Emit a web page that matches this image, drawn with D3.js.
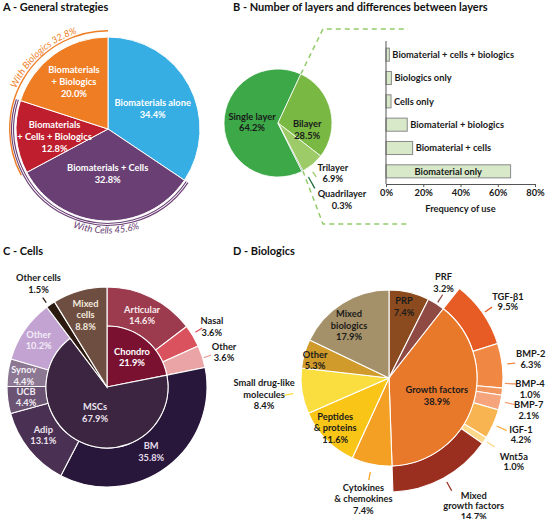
<!DOCTYPE html>
<html><head><meta charset="utf-8">
<script src="https://cdn.jsdelivr.net/npm/d3@7"></script>
<style>
body{margin:0;background:#fff;}
svg{display:block;font-family:Lato,'Open Sans',sans-serif;}
</style></head><body>
<svg id="chart" width="546" height="519"></svg>
<script>
// ================= DATA =================
const strategyLabels = ["Biomaterials alone","Biomaterials + Cells","Biomaterials + Cells + Biologics","Biomaterials + Biologics"];
const strategyValues = [34.4,32.8,12.8,20.0];
const withCellsLabel = "With Cells 45.6%";
const withBiologicsLabel = "With Biologics 32.8%";

const layerLabels = ["Single layer","Bilayer","Trilayer","Quadrilayer"];
const layerValues = [64.2,28.5,6.9,0.3];

const diffLabels = ["Biomaterial + cells + biologics","Biologics only","Cells only","Biomaterial + biologics","Biomaterial + cells","Biomaterial only"];
const diffValues = [1.8,2.9,2.7,11.4,14.3,66.9];
const freqTicks = [0,20,40,60,80];

const cellGroupLabels = ["Chondro","MSCs","Other cells","Mixed cells"];
const cellGroupValues = [21.9,67.9,1.5,8.8];
const cellSubLabels = ["Articular","Nasal","Other","BM","Adip","UCB","Synov","Other"];
const cellSubParents = ["Chondro","Chondro","Chondro","MSCs","MSCs","MSCs","MSCs","MSCs"];
const cellSubValues = [14.6,3.6,3.6,35.8,13.1,4.4,4.4,10.2];

const bioGroupLabels = ["PRP","PRF","Growth factors","Cytokines & chemokines","Peptides & proteins","Small drug-like molecules","Other","Mixed biologics"];
const bioGroupValues = [7.4,3.2,38.9,7.4,11.6,8.4,5.3,17.9];
const gfSubLabels = ["TGF-β1","BMP-2","BMP-4","BMP-7","IGF-1","Wnt5a","Mixed growth factors"];
const gfSubValues = [9.5,6.3,1.0,2.1,4.2,1.0,14.7];

// ================= STYLE =================
const FONT = 9.3, LH = 11.5;
const svg = d3.select("#chart");
svg.append("rect").attr("width",546).attr("height",519).attr("fill","#fff");
const rad = d => d*Math.PI/180;
const polar = (cx,cy,r,aRad) => [cx + r*Math.sin(aRad), cy - r*Math.cos(aRad)];

function block(g, x, y, lines, opt){
  opt = opt||{};
  const lh = opt.lh||LH;
  const t = g.append("text").attr("text-anchor","middle")
    .attr("font-size",opt.size||FONT).attr("font-weight",700)
    .attr("fill",opt.color||"#1a1a1a");
  lines.forEach((s,i)=>{
    t.append("tspan").attr("x",x).attr("y", y - (lines.length-1)*lh/2 + i*lh).attr("dy","0.35em").text(s);
  });
  return t;
}
function lines(name, value){
  const wraps = {
    "Biomaterials + Cells + Biologics":["Biomaterials","+ Cells + Biologics"],
    "Biomaterials + Biologics":["Biomaterials","+ Biologics"],
    "Mixed cells":["Mixed","cells"],
    "Mixed biologics":["Mixed","biologics"],
    "Peptides & proteins":["Peptides","& proteins"],
    "Cytokines & chemokines":["Cytokines","& chemokines"],
    "Small drug-like molecules":["Small drug-like","molecules"],
    "Mixed growth factors":["Mixed","growth factors"]
  };
  return (wraps[name]||[name]).concat([value.toFixed(1)+"%"]);
}
const titleList = [["A - General strategies",3,11],["B - Number of layers and differences between layers",233,11],["C - Cells",3,255],["D - Biologics",233,255]];
titleList.forEach(d=>svg.append("text").attr("x",d[1]).attr("y",d[2]).attr("font-size",11).attr("font-weight",700).attr("fill","#111").text(d[0]));

// ================= PANEL A =================
(function(){
  const cx=108, cy=129, R=92;
  const colors = ["#36ade3","#6a3f74","#be1e2d","#ef7d24"];
  const lab = [{da:4,r:49},{da:-2.5,r:45},{da:-3,r:54},{da:0,r:58}];
  const g = svg.append("g");
  const arcs = d3.pie().sort(null).value(d=>d)(strategyValues);
  const arc = d3.arc().innerRadius(0).outerRadius(R);
  g.append("g").attr("transform",`translate(${cx},${cy})`).selectAll("path").data(arcs).join("path")
    .attr("d",arc).attr("fill",(d,i)=>colors[i]).attr("stroke","#fff").attr("stroke-width",1);
  arcs.forEach((d,i)=>{
    const m = (d.startAngle+d.endAngle)/2 + rad(lab[i].da);
    const [x,y] = polar(cx,cy,lab[i].r,m);
    block(g,x,y,lines(strategyLabels[i],strategyValues[i]),{color:"#fff",lh:12});
  });
  const ring = (a0,a1,r,col,w)=> g.append("path").attr("transform",`translate(${cx},${cy})`)
      .attr("d", d3.arc().innerRadius(r).outerRadius(r).startAngle(a0).endAngle(a1)())
      .attr("fill","none").attr("stroke",col).attr("stroke-width",w);
  ring(arcs[1].startAngle, arcs[2].endAngle, 94.3, "#6a3f74", 1.1);
  ring(arcs[1].startAngle, arcs[2].endAngle, 96.3, "#6a3f74", 1.1);
  ring(arcs[2].startAngle, arcs[3].endAngle, 98.3, "#ef7d24", 1.4);
  function arcText(id, centerDeg, r, span, cw, txt, col){
    const a0 = rad(centerDeg - span), a1 = rad(centerDeg + span);
    const p0 = polar(cx,cy,r,cw?a0:a1), p1 = polar(cx,cy,r,cw?a1:a0);
    svg.append("path").attr("id",id).attr("fill","none")
      .attr("d",`M${p0[0]},${p0[1]} A${r},${r} 0 0 ${cw?1:0} ${p1[0]},${p1[1]}`);
    svg.append("text").attr("font-size",9.5).attr("font-style","italic").attr("fill",col)
      .append("textPath").attr("href","#"+id).attr("startOffset","50%").attr("text-anchor","middle").text(txt);
  }
  arcText("bioArc", 318, 100.5, 60, true, withBiologicsLabel, "#ef7d24");
  arcText("cellArc", 181, 104.5, 60, false, withCellsLabel, "#6a3f74");
})();

// ================= PANEL B =================
(function(){
  const cx=278, cy=123, R=54;
  const colors = ["#3ca848","#78b843","#9dcb68","#1d6f3c"];
  const total = d3.sum(layerValues);
  const rot = rad(25) - layerValues[0]/total*2*Math.PI;
  const g = svg.append("g");
  const arcs = d3.pie().sort(null).value(d=>d).startAngle(rot).endAngle(rot+2*Math.PI)(layerValues);
  const top = polar(cx,cy,R,arcs[1].startAngle), bot = polar(cx,cy,R,arcs[3].startAngle);
  g.append("path").attr("d",`M${top[0]},${top[1]} L323,29 L408,29`).attr("fill","none")
    .attr("stroke","#92cc6a").attr("stroke-width",1.5).attr("stroke-dasharray","5,4");
  g.append("path").attr("d",`M${bot[0]},${bot[1]} L323,224 L408,224`).attr("fill","none")
    .attr("stroke","#92cc6a").attr("stroke-width",1.5).attr("stroke-dasharray","5,4");
  g.append("g").attr("transform",`translate(${cx},${cy})`).selectAll("path").data(arcs).join("path")
    .attr("d",d3.arc().innerRadius(0).outerRadius(R)).attr("fill",(d,i)=>colors[i]).attr("stroke","#fff").attr("stroke-width",0.8);
  const lab = [
    {da:2,r:26},{da:27,r:30},
    {da:-7.7,r:74.3, lead:{da:4.5,r1:60,r2:66,col:"#9dcb68"}},
    {da:-13,r:99.7, lead:{da:-2.5,r1:62,r2:75,col:"#1d6f3c"}}
  ];
  arcs.forEach((d,i)=>{
    const m = (d.startAngle+d.endAngle)/2;
    const L = lab[i];
    if(L.lead){
      const a = polar(cx,cy,L.lead.r1,m+rad(L.lead.da)), b = polar(cx,cy,L.lead.r2,m+rad(L.lead.da));
      g.append("line").attr("x1",a[0]).attr("y1",a[1]).attr("x2",b[0]).attr("y2",b[1]).attr("stroke",L.lead.col).attr("stroke-width",1.3);
    }
    const [x,y] = polar(cx,cy,L.r,m+rad(L.da));
    block(g,x,y,lines(layerLabels[i],layerValues[i]),{color:"#1a1a1a"});
  });

  const x = d3.scaleLinear().domain([0,80]).range([386,535]);
  const y = d3.scaleBand().domain(diffLabels).range([43,183]).paddingInner(0.44).paddingOuter(0.22);
  g.selectAll("rect.bar").data(diffValues).join("rect").attr("class","bar")
    .attr("x",x(0)).attr("y",(d,i)=>y(diffLabels[i])).attr("width",d=>x(d)-x(0)).attr("height",y.bandwidth())
    .attr("fill","#d7e9c9").attr("stroke","#8a8a8a").attr("stroke-width",1);
  diffValues.forEach((v,i)=>{
    const inside = (x(v)-x(0)) > 100;
    g.append("text").attr("font-size",FONT).attr("font-weight",700).attr("fill","#1a1a1a")
      .attr("x", inside ? (x(0)+x(v))/2 : x(v)+3).attr("text-anchor", inside?"middle":"start")
      .attr("y", y(diffLabels[i])+y.bandwidth()/2).attr("dy","0.35em").text(diffLabels[i]);
  });
  const xa = g.append("g").attr("transform","translate(0,184)")
    .call(d3.axisBottom(x).tickValues(freqTicks).tickFormat(d=>d+"%").tickSize(3).tickSizeOuter(0));
  xa.select(".domain").attr("stroke","#555");
  xa.selectAll(".tick line").attr("stroke","#555");
  xa.selectAll("text").attr("font-family","Lato,sans-serif").attr("font-size",FONT).attr("font-weight",700).attr("fill","#1a1a1a").attr("dy","0.6em");
  g.append("line").attr("x1",x(0)).attr("x2",x(0)).attr("y1",41).attr("y2",184).attr("stroke","#555");
  g.append("text").attr("x",(x(0)+x(80))/2).attr("y",212).attr("text-anchor","middle")
    .attr("font-size",FONT).attr("font-weight",700).attr("fill","#1a1a1a").text("Frequency of use");
})();

// ================= PANEL C =================
(function(){
  const cx=107, cy=387, Rin=61, Rout=100;
  const gColors = {"Chondro":"#7b1131","MSCs":"#3b2541","Other cells":"#2c1a10","Mixed cells":"#6e4e40"};
  const sColors = ["#9c3b4e","#da525d","#eba4a6","#28173a","#4a3053","#6b5473","#8c7893","#c2a3d2"];
  const g = svg.append("g").attr("transform",`translate(${cx},${cy})`);
  const gl = svg.append("g");
  const arcs = d3.pie().sort(null).value(d=>d)(cellGroupValues);
  const hasSub = n => cellSubParents.includes(n);
  const subArcs = [];
  arcs.forEach((a,gi)=>{
    const name = cellGroupLabels[gi];
    const idx = cellSubParents.map((p,i)=>p===name?i:-1).filter(i=>i>=0);
    if(!idx.length) return;
    const s = d3.sum(idx,i=>cellSubValues[i]);
    const sc = d3.scaleLinear().domain([0,s]).range([a.startAngle,a.endAngle]);
    let c=0;
    idx.forEach(i=>{ subArcs.push({i, startAngle:sc(c), endAngle:sc(c+cellSubValues[i])}); c+=cellSubValues[i]; });
  });
  g.selectAll("path.sub").data(subArcs).join("path").attr("class","sub")
    .attr("d",d3.arc().innerRadius(Rin).outerRadius(Rout)).attr("fill",d=>sColors[d.i]).attr("stroke","#fff").attr("stroke-width",1.1);
  g.selectAll("path.grp").data(arcs).join("path").attr("class","grp")
    .attr("d",(d,i)=>d3.arc().innerRadius(0).outerRadius(hasSub(cellGroupLabels[i])?Rin:Rout)(d))
    .attr("fill",(d,i)=>gColors[cellGroupLabels[i]]).attr("stroke","#fff").attr("stroke-width",1.1);

  const gLab = [{da:0.4,r:39,col:"#fff"},{da:3.9,r:28.6,col:"#ece3ee"},
                {da:0.8,r:124,col:"#1a1a1a",lead:{da:-1.4,r1:104,r2:110,col:"#2c1a10"}},
                {da:-0.8,r:75,col:"#f3e9df"}];
  arcs.forEach((d,i)=>{
    const m=(d.startAngle+d.endAngle)/2, L=gLab[i];
    if(L.lead){
      const a=polar(cx,cy,L.lead.r1,m+rad(L.lead.da)), b=polar(cx,cy,L.lead.r2,m+rad(L.lead.da));
      gl.append("line").attr("x1",a[0]).attr("y1",a[1]).attr("x2",b[0]).attr("y2",b[1]).attr("stroke",L.lead.col).attr("stroke-width",1.3);
    }
    const [x,y]=polar(cx,cy,L.r,m+rad(L.da));
    block(gl,x,y,lines(cellGroupLabels[i],cellGroupValues[i]),{color:L.col});
  });
  const sLab = [
    {da:-0.4,r:80,col:"#f7eaec"},
    {da:0.8,r:121,col:"#1a1a1a",lead:{da:-1,r1:104,r2:112}},
    {da:1.3,r:122,col:"#1a1a1a",lead:{da:0.8,r1:101,r2:109}},
    {da:2.6,r:78.5,col:"#e4dbe9"},{da:1.7,r:80,col:"#ece3ee"},{da:0.2,r:81.6,col:"#f1ebf3"},
    {da:-0.6,r:84,col:"#f4eff6"},{da:-0.3,r:82.7,col:"#f3ebf7"}
  ];
  subArcs.forEach(d=>{
    const m=(d.startAngle+d.endAngle)/2, L=sLab[d.i];
    if(L.lead){
      const a=polar(cx,cy,L.lead.r1,m+rad(L.lead.da)), b=polar(cx,cy,L.lead.r2,m+rad(L.lead.da));
      gl.append("line").attr("x1",a[0]).attr("y1",a[1]).attr("x2",b[0]).attr("y2",b[1]).attr("stroke",sColors[d.i]).attr("stroke-width",1.3);
    }
    const [x,y]=polar(cx,cy,L.r,m+rad(L.da));
    block(gl,x,y,lines(cellSubLabels[d.i],cellSubValues[d.i]),{color:L.col});
  });
})();

// ================= PANEL D =================
(function(){
  const cx=389, cy=378, R=88, Rring=114;
  const gColors = ["#8b4b1f","#8f4a44","#e8782a","#f3a024","#f9c516","#fadd3e","#d09b2a","#a59169"];
  const sColors = ["#e75b25","#f08843","#f29660","#f5a47b","#f9b452","#fcd98b","#9b2f1f"];
  const g = svg.append("g").attr("transform",`translate(${cx},${cy})`);
  const gl = svg.append("g");
  const arcs = d3.pie().sort(null).value(d=>d)(bioGroupValues);
  const gf = arcs[bioGroupLabels.indexOf("Growth factors")];
  const sc = d3.scaleLinear().domain([0,d3.sum(gfSubValues)]).range([gf.startAngle,gf.endAngle]);
  let c=0; const subArcs=[];
  gfSubValues.forEach((v,i)=>{ subArcs.push({i,startAngle:sc(c),endAngle:sc(c+v)}); c+=v; });
  g.selectAll("path.sub").data(subArcs).join("path").attr("class","sub")
    .attr("d",d3.arc().innerRadius(R).outerRadius(Rring)).attr("fill",d=>sColors[d.i]).attr("stroke","#fff").attr("stroke-width",1.1);
  g.selectAll("path.grp").data(arcs).join("path").attr("class","grp")
    .attr("d",d3.arc().innerRadius(0).outerRadius(R)).attr("fill",(d,i)=>gColors[i]).attr("stroke","#fff").attr("stroke-width",1.1);

  const gLab = [
    {da:-1.4,r:72.6},
    {da:-2.6,r:110,lead:{da:0.4,r1:90,r2:99}},
    {da:2.4,r:51},
    {da:0.6,r:123.8,lead:{da:-0.1,r1:96,r2:104}},
    {da:1.5,r:73.6},
    {da:1,r:126,lead:{da:-0.7,r1:97,r2:106}},
    {da:-2.7,r:76},
    {da:-5.1,r:66}
  ];
  arcs.forEach((d,i)=>{
    const m=(d.startAngle+d.endAngle)/2, L=gLab[i];
    if(L.lead){
      const a=polar(cx,cy,L.lead.r1,m+rad(L.lead.da)), b=polar(cx,cy,L.lead.r2,m+rad(L.lead.da));
      gl.append("line").attr("x1",a[0]).attr("y1",a[1]).attr("x2",b[0]).attr("y2",b[1]).attr("stroke",gColors[i]).attr("stroke-width",1.3);
    }
    const [x,y]=polar(cx,cy,L.r,m+rad(L.da));
    block(gl,x,y,lines(bioGroupLabels[i],bioGroupValues[i]),{color:"#1a1a1a"});
  });
  const sLab = [
    {da:2.1,r:141.2,lh:10.5,lead:{da:0.2,r1:116.5,r2:125}},
    {da:-1.2,r:143,lh:10.5,lead:{da:-0.5,r1:119,r2:127}},
    {da:-2.3,r:141.5,lh:10.5,lead:{da:-4.2,r1:116,r2:128}},
    {da:0.6,r:143.5,lh:10.5,lead:{da:-0.6,r1:118.5,r2:128.8}},
    {da:-0.6,r:143.6,lh:10.5,lead:{da:0.2,r1:118,r2:129}},
    {da:0.6,r:150.3,lh:10.5,lead:{da:-0.1,r1:117,r2:126}},
    {da:-5,r:153.6,lh:10.5,lead:{da:-0.6,r1:119,r2:129}}
  ];
  subArcs.forEach(d=>{
    const m=(d.startAngle+d.endAngle)/2, L=sLab[d.i];
    const a=polar(cx,cy,L.lead.r1,m+rad(L.lead.da)), b=polar(cx,cy,L.lead.r2,m+rad(L.lead.da));
    gl.append("line").attr("x1",a[0]).attr("y1",a[1]).attr("x2",b[0]).attr("y2",b[1]).attr("stroke",sColors[d.i]).attr("stroke-width",1.3);
    const [x,y]=polar(cx,cy,L.r,m+rad(L.da));
    block(gl,x,y,lines(gfSubLabels[d.i],gfSubValues[d.i]),{color:"#1a1a1a",lh:L.lh});
  });
})();
</script>
</body></html>
